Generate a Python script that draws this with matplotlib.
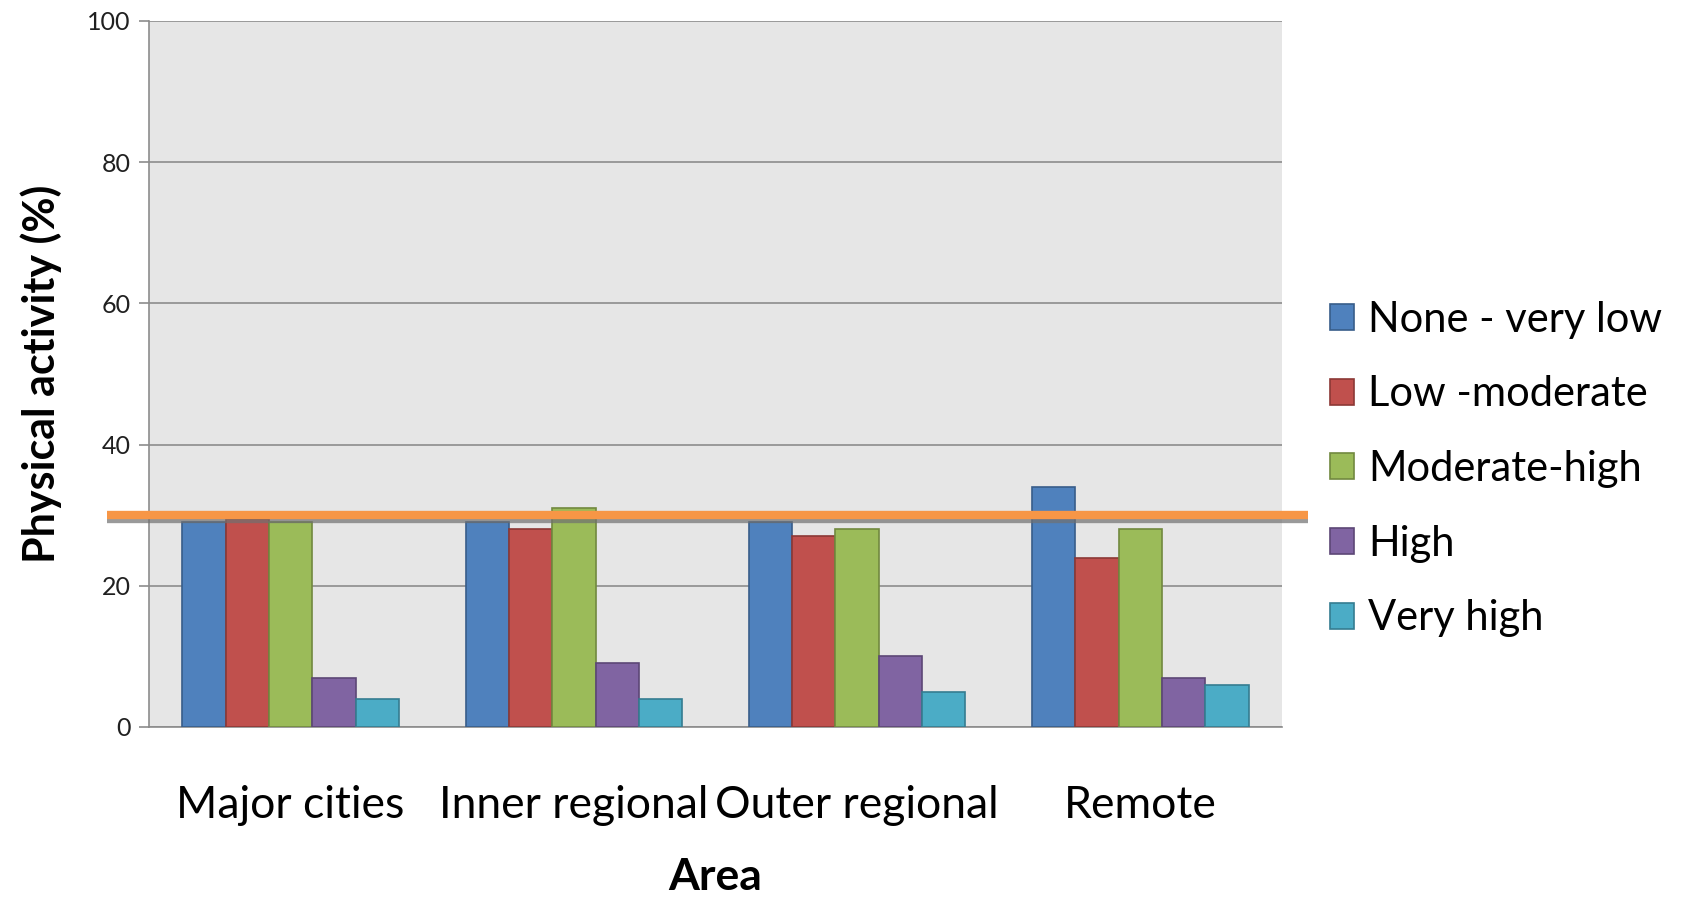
import numpy as np
import matplotlib
matplotlib.use("Agg")
import matplotlib.pyplot as plt
import matplotlib.patheffects as pe

plt.rcParams['font.family'] = ['Lato', 'DejaVu Sans']

# data
areas = ["Major cities", "Inner regional", "Outer regional", "Remote"]
levels = ["None - very low", "Low -moderate", "Moderate-high", "High", "Very high"]
none_very_low = [29, 29, 29, 34]
low_moderate = [29.5, 28, 27, 24]
moderate_high = [29, 31, 28, 28]
high = [7, 9, 10, 7]
very_high = [4, 4, 5, 6]
reference_level = 30

series = [none_very_low, low_moderate, moderate_high, high, very_high]
colors = ["#4F81BD", "#C0504D", "#9BBB59", "#8064A2", "#4BACC6"]
edges = ["#385D8A", "#8C3836", "#71893F", "#5C4776", "#357D91"]

fig = plt.figure(figsize=(16.88, 9.01), dpi=100)
ax = fig.add_axes([149/1688, 1 - 727/901, (1282 - 149)/1688, (727 - 21)/901])
ax.set_facecolor("#E6E6E6")

x = np.arange(len(areas))
width = 0.153
bars = []
for i, (vals, c, e) in enumerate(zip(series, colors, edges)):
    b = ax.bar(x + (i - 2) * width, vals, width, color=c, edgecolor=e,
               linewidth=1.2, label=levels[i], zorder=3)
    bars.append(b)

ax.set_xlim(-0.5, len(areas) - 0.5)
ax.set_ylim(0, 100)
ax.set_yticks(np.arange(0, 101, 20))
ax.yaxis.grid(True, color="#8C8C8C", linewidth=1.2, zorder=0)
ax.set_axisbelow(True)

for s in ["top", "right"]:
    ax.spines[s].set_visible(False)
ax.spines["left"].set_color("#8C8C8C")
ax.spines["bottom"].set_color("#8C8C8C")
ax.spines["left"].set_linewidth(1.2)
ax.spines["bottom"].set_linewidth(1.2)

ax.set_xticks(x)
ax.set_xticklabels(areas, fontsize=32)
ax.tick_params(axis="x", length=0, pad=42)
ax.tick_params(axis="y", labelsize=18, length=7, width=1.2, color="#8C8C8C",
               labelcolor="#202020", pad=6)

ax.set_ylabel("Physical activity (%)", fontsize=31, fontweight="bold", labelpad=18)
ax.set_xlabel("Area", fontsize=32, fontweight="bold", labelpad=22)

# reference line at 30%
ax.plot([-0.037, 1.023], [reference_level, reference_level],
        transform=ax.get_yaxis_transform(), color="#F79646", linewidth=6,
        solid_capstyle="butt", clip_on=False, zorder=5,
        path_effects=[pe.SimpleLineShadow(offset=(0, -3), shadow_color="#707070", alpha=0.7),
                      pe.Normal()])

leg = fig.legend(handles=bars, labels=levels, loc="center left",
                 bbox_to_anchor=(1301/1688, 1 - 469/901), frameon=False,
                 fontsize=30, handlelength=0.58, handleheight=0.58,
                 handletextpad=0.33, labelspacing=0.88, borderaxespad=0.3)

fig.savefig("out.png", dpi=100)
